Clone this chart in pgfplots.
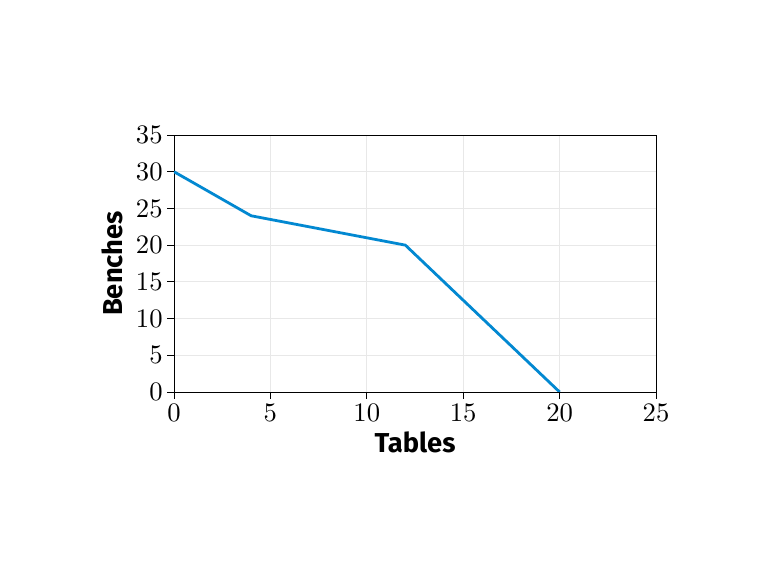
\documentclass[border=0pt]{standalone}
\usepackage{fontspec}
\newfontfamily\labfont{Fira Sans}
\newfontfamily\tickfont{lmroman10-regular}[Extension=.otf]
\usepackage{pgfplots}
\pgfplotsset{compat=1.18}
\definecolor{linec}{RGB}{2,136,209}
\begin{document}
\begin{tikzpicture}
\begin{axis}[
  name=ax,
  width=361.5pt, height=192.75pt, scale only axis,
  xmin=0, xmax=25, ymin=0, ymax=35,
  xtick={0,5,...,25}, ytick={0,5,...,35},
  tick align=outside, tick pos=left,
  major tick length=5pt,
  grid=major, grid style={gray!18, line width=0.6pt},
  axis line style={line width=0.7pt},
  tick style={black, line width=0.7pt},
  /pgf/number format/assume math mode=true,
  tick label style={font=\tickfont\fontsize{20}{24}\selectfont},
  xlabel={\labfont\bfseries Tables}, ylabel={\labfont\bfseries Benches},
  label style={font=\fontsize{20.5}{24}\selectfont},
  xlabel style={yshift=-1pt},
  ylabel style={yshift=3pt},
]
\addplot[color=linec, line width=2.1pt] coordinates {(0,30) (4,24) (12,20) (20,0)};
\end{axis}
\pgfresetboundingbox
\path[use as bounding box] (ax.south west) ++(-130.5pt,-144pt) rectangle ++(583.5pt,438pt);
\end{tikzpicture}
\end{document}
